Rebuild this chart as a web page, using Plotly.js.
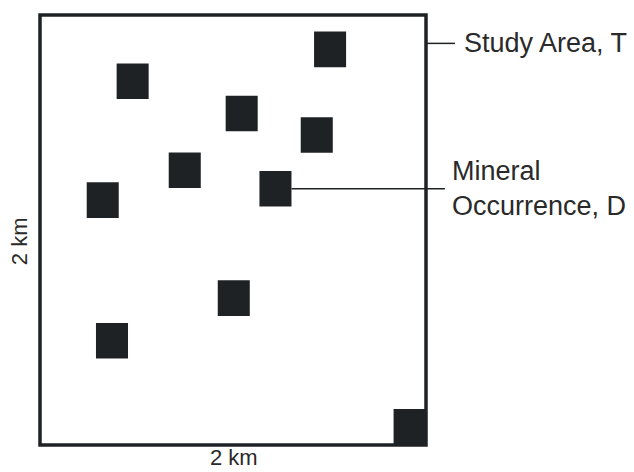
<!DOCTYPE html>
<html>
<head>
<meta charset="utf-8">
<script src="https://cdn.plot.ly/plotly-3.0.1.min.js"></script>
<style>html,body{margin:0;padding:0;background:#fff;}#chart{width:634px;height:472px;}</style>
</head>
<body>
<div id="chart"></div>
<script>
// Mineral occurrence centres (km) inside a 2 km x 2 km study area
const occurrenceX = [1.503, 0.480, 1.045, 1.434, 0.750, 1.220, 0.325, 1.004, 0.373, 1.915];
const occurrenceY = [1.840, 1.692, 1.542, 1.442, 1.278, 1.192, 1.139, 0.683, 0.485, 0.085];
const areaSize = [2, 2];           // km
const sideLabels = ["2 km", "2 km"];
const calloutLabels = ["Study Area, T", "Mineral<br>Occurrence, D"];
const calloutIndex = 5;            // occurrence the callout points to

const sq = 0.166;                  // square side, km
const ink = "#1f2225";
const textCol = "#2a2a2a";

const shapes = [];
occurrenceX.forEach((cx, i) => {
  shapes.push({type: "rect", xref: "x", yref: "y",
    x0: cx - sq / 2, x1: cx + sq / 2, y0: occurrenceY[i] - sq / 2, y1: occurrenceY[i] + sq / 2,
    fillcolor: ink, line: {width: 0}, layer: "above"});
});
// study area boundary (paper refs so the thick line is not clipped)
shapes.push({type: "rect", xref: "paper", yref: "paper", x0: 0, x1: 1, y0: 0, y1: 1,
  line: {color: ink, width: 3.5}, fillcolor: "rgba(0,0,0,0)", layer: "above"});
// leader for Study Area
shapes.push({type: "line", xref: "paper", yref: "paper", x0: 1, x1: 1.075, y0: 0.934, y1: 0.934,
  line: {color: ink, width: 1.5}});
// leader for Mineral Occurrence
shapes.push({type: "line", xref: "paper", yref: "y",
  x0: (occurrenceX[calloutIndex] + sq / 2) / areaSize[0], x1: 1.049,
  y0: occurrenceY[calloutIndex], y1: occurrenceY[calloutIndex],
  line: {color: ink, width: 1.5}});

const font = {family: "Liberation Sans, Arial, sans-serif", color: textCol};

const annotations = [
  {text: calloutLabels[0], xref: "paper", yref: "paper", x: 1.094, y: 0.936,
   xanchor: "left", yanchor: "middle", showarrow: false, font: Object.assign({size: 27}, font)},
  {text: calloutLabels[1], xref: "paper", yref: "paper", x: 1.063, y: 0.597,
   xanchor: "left", yanchor: "middle", align: "left", showarrow: false, font: Object.assign({size: 27}, font)},
  {text: sideLabels[0], xref: "paper", yref: "paper", x: 0.503, y: -0.0615,
   xanchor: "center", yanchor: "bottom", showarrow: false, borderpad: 0, font: Object.assign({size: 22}, font)},
  {text: sideLabels[1], xref: "paper", yref: "paper", x: -0.053, y: 0.473, textangle: -90,
   xanchor: "center", yanchor: "middle", showarrow: false, font: Object.assign({size: 22}, font)}
];

const trace = {x: occurrenceX, y: occurrenceY, type: "scatter", mode: "markers",
  marker: {size: 1, color: "rgba(0,0,0,0)"}, hoverinfo: "skip", showlegend: false};

const axis = {showgrid: false, zeroline: false, showticklabels: false, ticks: "", showline: false, fixedrange: true};

const layout = {
  width: 634, height: 472,
  margin: {l: 40, r: 208, t: 15, b: 27, pad: 0},
  paper_bgcolor: "#ffffff", plot_bgcolor: "#ffffff",
  xaxis: Object.assign({range: [0, areaSize[0]]}, axis),
  yaxis: Object.assign({range: [0, areaSize[1]]}, axis),
  shapes: shapes, annotations: annotations, showlegend: false
};

Plotly.newPlot("chart", [trace], layout, {displayModeBar: false, staticPlot: true});
</script>
</body>
</html>
